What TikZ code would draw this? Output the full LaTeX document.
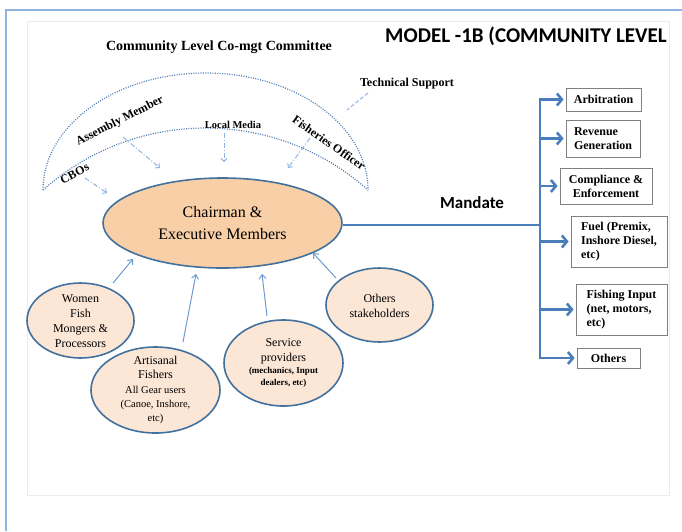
\documentclass[tikz,border=0pt]{standalone}
\usepackage{fontspec}
\setmainfont{Liberation Serif}
\newfontfamily\calib{Carlito}
\usetikzlibrary{shapes.geometric,arrows.meta}
\definecolor{framebl}{HTML}{8DB3E2}
\definecolor{edgebl}{HTML}{41719C}
\definecolor{peach}{HTML}{F9CFA7}
\definecolor{lpeach}{HTML}{FCE6D6}
\definecolor{brbl}{HTML}{4A7EBB}
\definecolor{thinbl}{HTML}{6E9AD2}
\definecolor{dotbl}{HTML}{4C79B4}
\definecolor{dashbl}{HTML}{8DB4E2}
\definecolor{boxgray}{HTML}{808080}
\definecolor{innergray}{HTML}{EBEBEB}
\newcommand{\smalltxt}{\fontsize{10.5}{14.3}\selectfont}
\newcommand{\tinybold}{\fontsize{9}{12}\selectfont\bfseries}
\begin{document}
\begin{tikzpicture}[x=1pt,y=-1pt,
  chairell/.style={ellipse, draw=edgebl, line width=1.6pt, fill=peach, inner sep=0pt},
  smallell/.style={ellipse, draw=edgebl, line width=1.6pt, fill=lpeach, inner sep=0pt},
  elltxt/.style={align=center, inner sep=0pt, font=\fontsize{12}{15}\selectfont},
  optbox/.style={draw=boxgray, line width=0.8pt, fill=white, inner sep=0pt},
  boxtxt/.style={inner sep=0pt, font=\fontsize{12}{14}\selectfont\bfseries},
  brline/.style={draw=brbl, line width=2.6pt},
  brarrow/.style={draw=brbl, line width=2.6pt, -{Straight Barb[length=5pt,width=12pt]}},
  thinarrow/.style={draw=thinbl, line width=1pt, -{Straight Barb[length=4pt,width=7pt]}},
  dasharrow/.style={draw=dashbl, line width=1pt, dash pattern=on 5pt off 2pt on 1pt off 2pt, -{Straight Barb[length=3pt,width=6pt]}},
  dotarc/.style={draw=dotbl, line width=1.2pt, dash pattern=on 1pt off 1.4pt},
  arclabel/.style={inner sep=0pt, font=\fontsize{12}{14}\selectfont\bfseries},
]
\useasboundingbox (0,0) rectangle (682,531);
% frame
\draw[innergray, line width=0.8pt] (27,21) rectangle (669,495);
\draw[framebl, line width=1.5pt] (6,531) -- (6,10) -- (682,10);

% titles
\node[inner sep=0pt, font=\calib\fontsize{21}{24}\selectfont\bfseries] (title) at (526,36) {MODEL -1B (COMMUNITY LEVEL};
\node[inner sep=0pt, font=\fontsize{14}{16}\selectfont\bfseries] (committee) at (219,47) {Community Level Co-mgt Committee};

% arcs
\draw[dotarc] (43,190) arc[start angle=180, end angle=360, x radius=162.5, y radius=117];
\draw[dotarc] (43,190) arc[start angle=228.24, end angle=311.76, radius=244];

% arc labels
\node[arclabel, rotate=28] (cbo) at (74.5,173.5) {CBOs};
\node[arclabel, rotate=27] (asm) at (120,121) {Assembly Member};
\node[inner sep=0pt, font=\fontsize{10.5}{12}\selectfont\bfseries] (lm) at (233,125) {Local Media};
\node[arclabel, rotate=-35] (fo) at (329,143) {Fisheries Officer};
\node[arclabel] (ts) at (407,84) {Technical Support};

% central ellipse
\node[chairell, minimum width=239pt, minimum height=90pt] (chair) at (222.5,223) {};
\node[align=center, inner sep=0pt, font=\fontsize{16}{22}\selectfont] (chairt) at (chair.center) {Chairman \&\\Executive Members};

% dash-dot arrows
\coordinate (tsA) at (368,93);
\coordinate (tsB) at (347,110);
\draw[draw=dashbl, line width=1pt, dash pattern=on 4pt off 2pt] (tsA) -- (tsB);
\coordinate (cboA) at (85,178);
\coordinate (cboB) at (107,193);
\draw[dasharrow] (cboA) -- (cboB);
\coordinate (asmA) at (123,137);
\coordinate (asmB) at (160,168);
\draw[dasharrow] (asmA) -- (asmB);
\coordinate (lmA) at (224,133);
\coordinate (lmB) at (224,162);
\draw[dasharrow] (lmA) -- (lmB);
\coordinate (foA) at (310,138);
\coordinate (foB) at (288,168);
\draw[dasharrow] (foA) -- (foB);

% small ellipses
\node[smallell, minimum width=107pt, minimum height=75pt] (women) at (80.5,320.5) {};
\node[elltxt] (womentxt) at (80.5,321.5) {Women\\Fish\\Mongers \&\\Processors};

\node[smallell, minimum width=129pt, minimum height=86pt] (arti) at (155.5,390) {};
\node[elltxt, font=\fontsize{12}{14.3}\selectfont] (artitxt) at (155.5,390) {Artisanal\\Fishers\\\smalltxt All Gear users\\\smalltxt (Canoe, Inshore,\\\smalltxt etc)};

\node[smallell, minimum width=119pt, minimum height=86pt] (serv) at (283.5,363) {};
\node[elltxt, font=\fontsize{12}{12}\selectfont] (servtxt) at (283.5,363) {Service\\[3pt]providers\\\tinybold (mechanics, Input\\\tinybold dealers, etc)};

\node[smallell, minimum width=107pt, minimum height=74pt] (oths) at (379.5,305) {};
\node[elltxt] (othstxt) at (379.5,305.5) {Others\\stakeholders};

% thin arrows to chair
\coordinate (wA) at (113,283);
\coordinate (wB) at (133,259);
\draw[thinarrow] (wA) -- (wB);
\coordinate (aA) at (183,342);
\coordinate (aB) at (196,274);
\draw[thinarrow] (aA) -- (aB);
\coordinate (sA) at (267,316);
\coordinate (sB) at (262,274);
\draw[thinarrow] (sA) -- (sB);
\coordinate (oA) at (336,278);
\coordinate (oB) at (313,253);
\draw[thinarrow] (oA) -- (oB);

% mandate
\node[inner sep=0pt, font=\calib\fontsize{17}{20}\selectfont\bfseries] (mand) at (472,203) {Mandate};

% right boxes
\node[optbox, minimum width=75pt, minimum height=23pt] (arb) at (603.5,99.5) {};
\node[boxtxt] at (arb.center) {Arbitration};
\node[optbox, minimum width=74pt, minimum height=37pt] (rev) at (603,138.5) {};
\node[boxtxt, align=left] at (rev.center) {Revenue\\Generation};
\node[optbox, minimum width=92pt, minimum height=36pt] (comp) at (606,186) {};
\node[boxtxt, align=center] at (comp.center) {Compliance \&\\Enforcement};
\node[optbox, minimum width=96pt, minimum height=51pt] (fuel) at (619,241.5) {};
\node[boxtxt, align=left] at (fuel.center) {Fuel (Premix,\\Inshore Diesel,\\etc)};
\node[optbox, minimum width=91pt, minimum height=51pt] (fish) at (621.5,309.5) {};
\node[boxtxt, align=left] at (fish.center) {Fishing Input\\(net, motors,\\etc)};
\node[optbox, minimum width=63pt, minimum height=20pt] (oth) at (608.5,358) {};
\node[boxtxt] at (oth.center) {Others};

% branch lines
\coordinate (brtop) at (540,99.5);
\coordinate (brbot) at (540,358);
\coordinate (brmid) at (540,225);
\draw[brline] (chair.east |- brmid) -- (brmid);
\draw[brline, line cap=rect] (brtop) -- (brbot);
\draw[brarrow, shorten >=2pt] (brtop) -- (arb.west);
\draw[brarrow, shorten >=2pt] (brtop |- rev.west) -- (rev.west);
\draw[brarrow, shorten >=2pt] (brtop |- comp.west) -- (comp.west);
\draw[brarrow, shorten >=2pt] (brtop |- fuel.west) -- (fuel.west);
\draw[brarrow, shorten >=2pt] (brtop |- fish.west) -- (fish.west);
\draw[brarrow, shorten >=2pt] (brbot) -- (oth.west);
\end{tikzpicture}
\end{document}
